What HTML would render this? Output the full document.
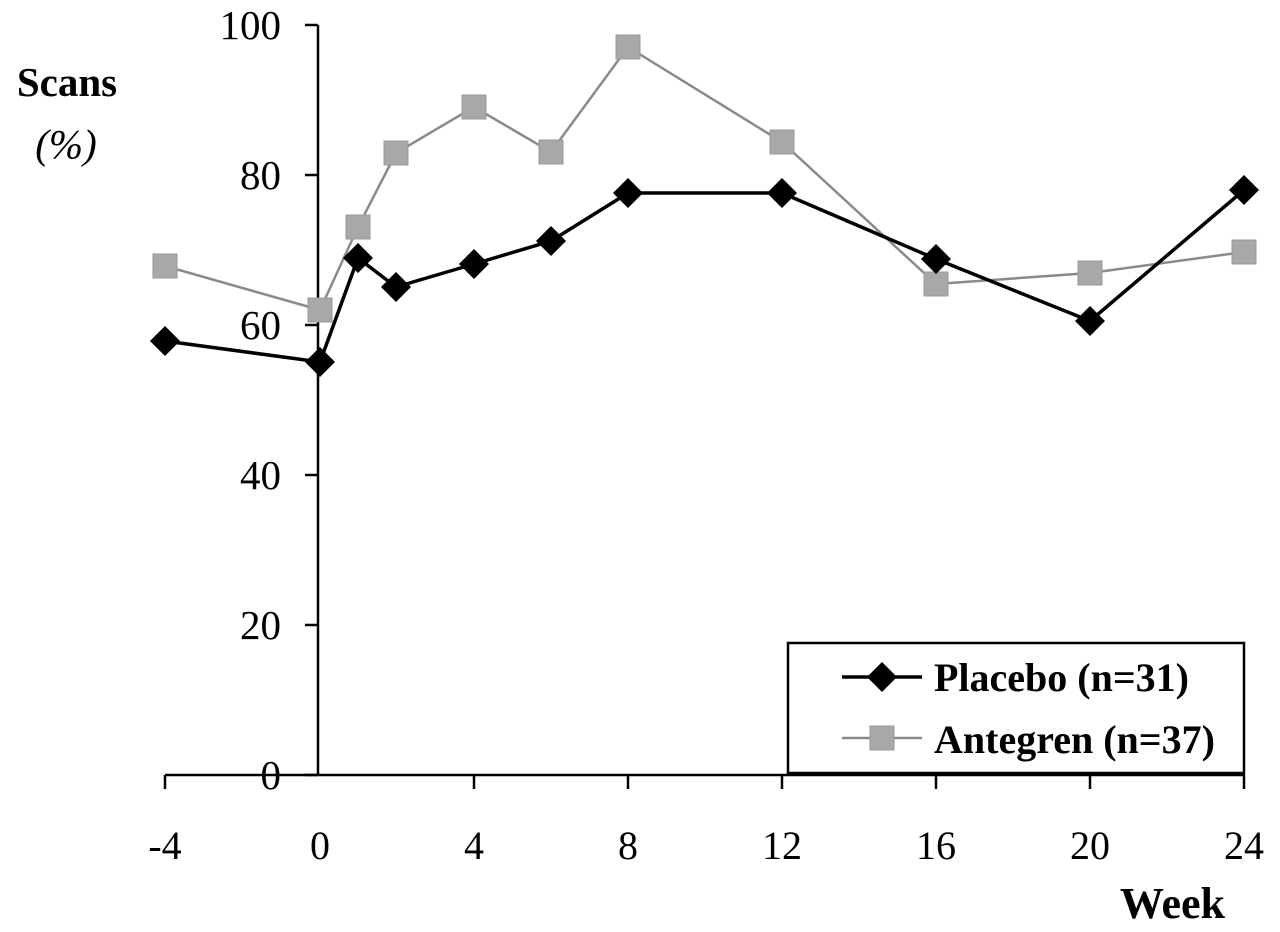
<!DOCTYPE html>
<html><head><style>body{margin:0;background:#fff}svg{display:block}</style></head><body>
<svg width="1280" height="932" xmlns="http://www.w3.org/2000/svg" font-family="Liberation Serif, serif">
<rect width="1280" height="932" fill="#fff"/>
<g stroke="#000" stroke-width="2.5" fill="none">
<line x1="318" y1="25" x2="318" y2="775"/>
<line x1="165" y1="775" x2="1245" y2="775"/>
<line x1="305" y1="25" x2="318" y2="25"/><line x1="305" y1="175" x2="318" y2="175"/><line x1="305" y1="325" x2="318" y2="325"/><line x1="305" y1="475" x2="318" y2="475"/><line x1="305" y1="625" x2="318" y2="625"/><line x1="305" y1="775" x2="318" y2="775"/>
<line x1="165" y1="775" x2="165" y2="789"/><line x1="474" y1="775" x2="474" y2="789"/><line x1="628" y1="775" x2="628" y2="789"/><line x1="782" y1="775" x2="782" y2="789"/><line x1="936" y1="775" x2="936" y2="789"/><line x1="1090" y1="775" x2="1090" y2="789"/><line x1="1244" y1="775" x2="1244" y2="789"/>
</g>
<g font-size="41" text-anchor="end" fill="#000">
<text x="281" y="39">100</text><text x="281" y="189">80</text><text x="281" y="339">60</text><text x="281" y="489">40</text><text x="281" y="639">20</text><text x="281" y="789">0</text>
</g>
<g font-size="40" text-anchor="middle" fill="#000">
<text x="165" y="859">-4</text><text x="320" y="859">0</text><text x="474" y="859">4</text><text x="628" y="859">8</text><text x="782" y="859">12</text><text x="936" y="859">16</text><text x="1090" y="859">20</text><text x="1244" y="859">24</text>
</g>
<text x="67" y="96" font-size="41" font-weight="bold" text-anchor="middle">Scans</text>
<text x="66" y="158" font-size="41" font-style="italic" text-anchor="middle">(%)</text>
<text x="1225" y="918" font-size="44" font-weight="bold" text-anchor="end">Week</text>
<polyline fill="none" stroke="#8a8a8a" stroke-width="2.5" points="165,266 320,310 358,227 396,153 474,107 551,152 628,47 782,142 936,284 1090,273 1244,252"/>
<polyline fill="none" stroke="#000" stroke-width="3.5" points="165,341 320,362 358,258 396,287 474,264 551,241 628,193 782,193 936,259 1090,321 1244,190"/>
<g fill="#a8a8a8" stroke="#999" stroke-width="1">
<rect x="153" y="254" width="24" height="24"/><rect x="308" y="298" width="24" height="24"/><rect x="346" y="215" width="24" height="24"/><rect x="384" y="141" width="24" height="24"/><rect x="462" y="95" width="24" height="24"/><rect x="539" y="140" width="24" height="24"/><rect x="616" y="35" width="24" height="24"/><rect x="770" y="130" width="24" height="24"/><rect x="924" y="272" width="24" height="24"/><rect x="1078" y="261" width="24" height="24"/><rect x="1232" y="240" width="24" height="24"/>
</g>
<g fill="#000">
<polygon points="165,326 180,341 165,356 150,341"/><polygon points="320,347 335,362 320,377 305,362"/><polygon points="358,243 373,258 358,273 343,258"/><polygon points="396,272 411,287 396,302 381,287"/><polygon points="474,249 489,264 474,279 459,264"/><polygon points="551,226 566,241 551,256 536,241"/><polygon points="628,178 643,193 628,208 613,193"/><polygon points="782,178 797,193 782,208 767,193"/><polygon points="936,244 951,259 936,274 921,259"/><polygon points="1090,306 1105,321 1090,336 1075,321"/><polygon points="1244,175 1259,190 1244,205 1229,190"/>
</g>
<rect x="788" y="643" width="456" height="130" fill="#fff" stroke="#000" stroke-width="2.5"/>
<line x1="842" y1="677" x2="922" y2="677" stroke="#000" stroke-width="3.5"/>
<polygon points="882,662 897,677 882,692 867,677" fill="#000"/>
<line x1="842" y1="738" x2="922" y2="738" stroke="#8a8a8a" stroke-width="2.5"/>
<rect x="870" y="726" width="24" height="24" fill="#a8a8a8" stroke="#999"/>
<g font-size="40" font-weight="bold" fill="#000">
<text x="934" y="691">Placebo (n=31)</text>
<text x="934" y="753">Antegren (n=37)</text>
</g>
</svg>
</body></html>
